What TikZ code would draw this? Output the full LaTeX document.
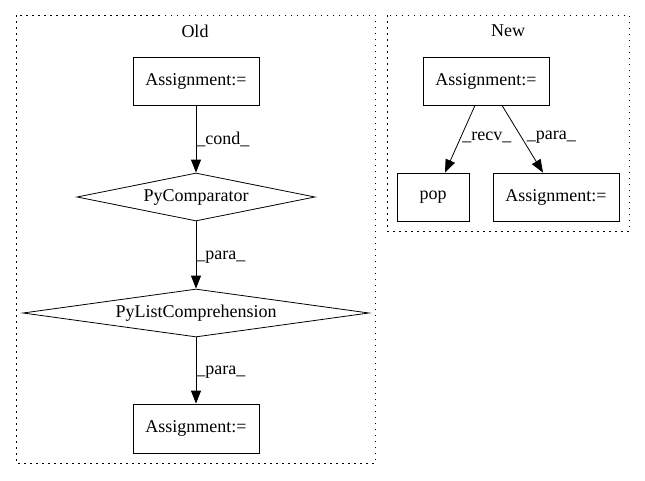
\documentclass[tikz,border=0pt]{standalone}
\usepackage{fontspec}
\setmainfont{Liberation Serif}
\usetikzlibrary{shapes.geometric,arrows.meta,calc}
\begin{document}
\begin{tikzpicture}[x=1pt,y=-1pt,
  every node/.style={font=\fontsize{18}{20}\selectfont},
  box/.style={draw,thick,rectangle,inner sep=0pt},
  dia/.style={draw,thick,diamond,inner sep=0pt},
  cluster/.style={draw,thick,dash pattern=on 1.5pt off 4.5pt},
  edge/.style={thick,-{Triangle[length=13pt,width=10pt]}},
  lbl/.style={inner sep=0pt,anchor=west}
]
\useasboundingbox (0,0) rectangle (645,480);
\draw[cluster] (16,15) rectangle (375,463);
\draw[cluster] (387,15) rectangle (629,231);
\node (oldt) at (195,31) {Old};
\node (newt) at (508,31) {New};
\node[box,minimum width=126pt,minimum height=48pt] (a1) at (196,81) {Assignment:=};
\node[dia,minimum width=238pt,minimum height=48pt,aspect=4.96] (pc) at (196,197) {PyComparator};
\node[dia,minimum width=346pt,minimum height=48pt,aspect=7.2] (plc) at (196,313) {PyListComprehension};
\node[box,minimum width=126pt,minimum height=49pt] (a2) at (196,428.5) {Assignment:=};
\node[box,minimum width=126pt,minimum height=48pt] (n1) at (486,81) {Assignment:=};
\node[box,minimum width=72pt,minimum height=48pt] (pop) at (433,197) {pop};
\node[box,minimum width=126pt,minimum height=48pt] (n2) at (556,197) {Assignment:=};
\draw[edge] (a1) -- node[lbl,pos=0.5] {\_cond\_} (pc);
\draw[edge] (pc) -- node[lbl,pos=0.53] {\_para\_} (plc);
\draw[edge] (plc) -- node[lbl,pos=0.53] {\_para\_} (a2);
\draw[edge] ([xshift=-11pt]n1.south) -- node[lbl,pos=0.5,xshift=2pt,yshift=2pt] {\_recv\_} ([xshift=12pt]pop.north);
\draw[edge] ([xshift=16pt]n1.south) -- node[lbl,pos=0.5,xshift=4pt,yshift=2pt] {\_para\_} ([xshift=-13pt]n2.north);
\end{tikzpicture}
\end{document}
